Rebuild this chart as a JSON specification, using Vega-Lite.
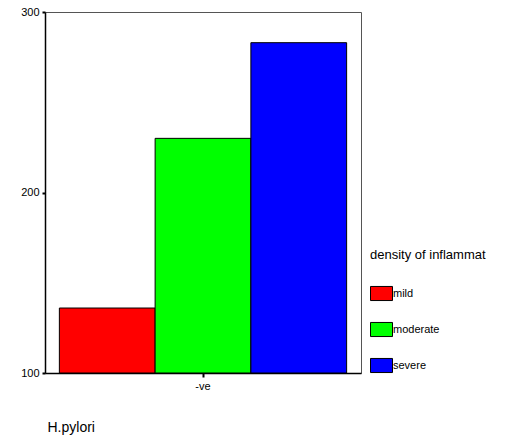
{
  "$schema": "https://vega.github.io/schema/vega-lite/v6.json",
  "width": 316,
  "height": 361,
  "autosize": "none",
  "padding": {"left": 45, "top": 12, "right": 155, "bottom": 66},
  "background": "white",
  "config": {
    "font": "Liberation Sans",
    "view": {"stroke": "#555", "strokeWidth": 1}
  },
  "data": {
    "values": [
      {"hp": "-ve", "density": "mild", "count": 136},
      {"hp": "-ve", "density": "moderate", "count": 230},
      {"hp": "-ve", "density": "severe", "count": 283}
    ]
  },
  "mark": {"type": "bar", "stroke": "black", "strokeWidth": 1},
  "encoding": {
    "x": {
      "field": "hp",
      "type": "nominal",
      "scale": {"paddingInner": 0, "paddingOuter": 0.05},
      "axis": {
        "title": "H.pylori",
        "titleFont": "Liberation Sans",
        "titleFontSize": 14,
        "titleFontWeight": "normal",
        "titleAnchor": "start",
        "titleAlign": "left",
        "titleX": 2,
        "titleY": 47,
        "titleColor": "black",
        "labelAngle": 0,
        "labelFontSize": 11,
        "labelColor": "black",
        "labelPadding": 3,
        "domainColor": "black",
        "domainWidth": 1.5,
        "tickColor": "black",
        "tickSize": 4,
        "tickWidth": 2
      }
    },
    "xOffset": {
      "field": "density",
      "type": "nominal",
      "sort": ["mild", "moderate", "severe"],
      "scale": {"paddingInner": 0, "paddingOuter": 0}
    },
    "y": {
      "field": "count",
      "type": "quantitative",
      "scale": {"domain": [100, 300], "zero": false, "nice": false},
      "axis": {
        "title": null,
        "values": [100, 200, 300],
        "grid": false,
        "labelFontSize": 11,
        "labelColor": "black",
        "labelPadding": 3,
        "domainColor": "black",
        "domainWidth": 1.5,
        "tickColor": "black",
        "tickSize": 3,
        "tickWidth": 2
      }
    },
    "y2": {"datum": 100},
    "color": {
      "field": "density",
      "type": "nominal",
      "sort": ["mild", "moderate", "severe"],
      "scale": {"domain": ["mild", "moderate", "severe"], "range": ["#ff0000", "#00ff00", "#0000ff"]},
      "legend": {
        "title": "density of inflammat",
        "titleFontSize": 13,
        "titleFontWeight": "normal",
        "titleColor": "black",
        "titlePadding": 20,
        "orient": "none",
        "legendX": 325,
        "legendY": 237,
        "symbolType": "M-1,-0.64H1V0.64H-1Z",
        "symbolSize": 484,
        "symbolStrokeColor": "black",
        "symbolStrokeWidth": 1,
        "symbolOpacity": 1,
        "labelFontSize": 11,
        "labelColor": "black",
        "labelOffset": 0,
        "rowPadding": 15,
        "offset": 0
      }
    }
  }
}
